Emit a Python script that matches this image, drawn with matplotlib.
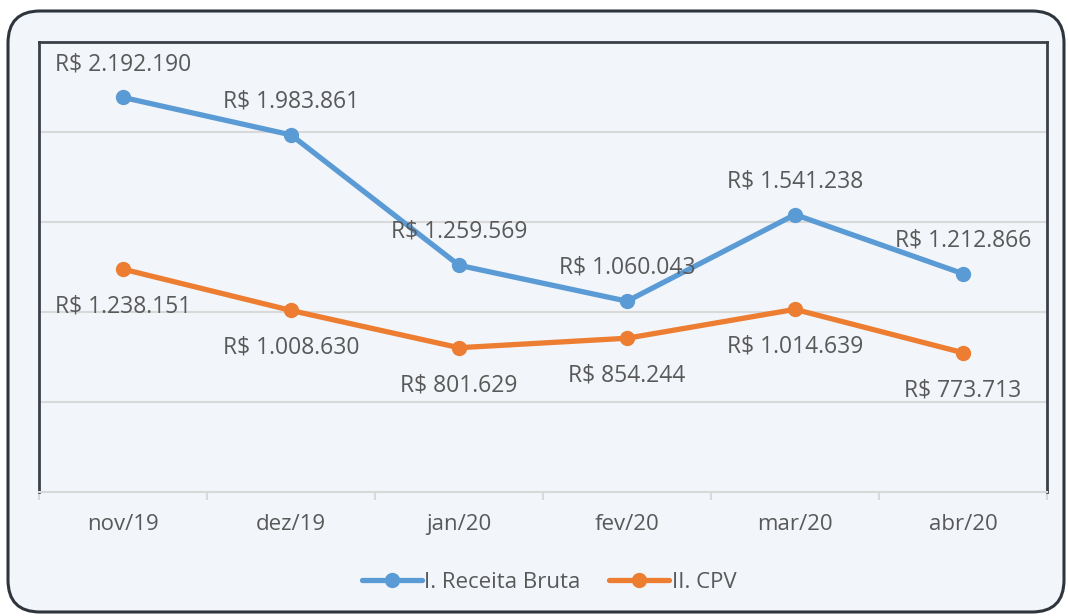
import matplotlib.pyplot as plt
from matplotlib.patches import FancyBboxPatch
from matplotlib.lines import Line2D

# ====== Data ======
meses = ["nov/19", "dez/19", "jan/20", "fev/20", "mar/20", "abr/20"]
receita_bruta = [2192190, 1983861, 1259569, 1060043, 1541238, 1212866]
cpv = [1238151, 1008630, 801629, 854244, 1014639, 773713]
# ==================

AZUL = "#5b9bd5"
LARANJA = "#ed7d31"
CINZA_TXT = "#595959"
FUNDO = "#f2f5fa"

plt.rcParams['font.family'] = ['Open Sans', 'DejaVu Sans']


def fmt_brl(v):
    return "R$ " + f"{v:,}".replace(",", ".")


fig = plt.figure(figsize=(10.68, 6.16), dpi=100)
fig.patch.set_facecolor("white")

# moldura arredondada
caixa = FancyBboxPatch((8 / 1068, 4 / 616), 1056 / 1068, 601 / 616,
                       boxstyle="round,pad=0,rounding_size=0.03",
                       transform=fig.transFigure, facecolor=FUNDO,
                       edgecolor="#2f353d", linewidth=2.2,
                       mutation_aspect=1068 / 616, zorder=-1)
fig.patches.append(caixa)

ax = fig.add_axes([39 / 1068, 124 / 616, 1008 / 1068, 450 / 616])
ax.set_facecolor(FUNDO)

x = list(range(len(meses)))
ax.plot(x, receita_bruta, color=AZUL, lw=3.8, marker="o", ms=10,
        solid_capstyle="round", zorder=3)
ax.plot(x, cpv, color=LARANJA, lw=3.8, marker="o", ms=10,
        solid_capstyle="round", zorder=3)

# rótulos de dados
for i, v in enumerate(receita_bruta):
    ax.annotate(fmt_brl(v), (i, v), xytext=(0, 24), textcoords="offset points",
                ha="center", va="center", fontsize=16.5, color=CINZA_TXT, zorder=4)
for i, v in enumerate(cpv):
    ax.annotate(fmt_brl(v), (i, v), xytext=(0, -27), textcoords="offset points",
                ha="center", va="center", fontsize=16.5, color=CINZA_TXT, zorder=4)

ax.set_xlim(-0.5, len(meses) - 0.5)
ax.set_ylim(0, 2500000)
ax.set_yticks([500000, 1000000, 1500000, 2000000])
ax.yaxis.grid(True, color="#d9d9d9", lw=1.5)
ax.set_axisbelow(True)
ax.tick_params(axis="y", left=False, labelleft=False)

ax.set_xticks(x)
ax.set_xticklabels(meses, fontsize=16, color=CINZA_TXT)
ax.tick_params(axis="x", length=0, pad=16)
ax.set_xticks([i + 0.5 for i in range(-1, len(meses))], minor=True)
ax.tick_params(axis="x", which="minor", length=6, width=1.5, color="#d9d9d9")

for lado in ["left", "top", "right"]:
    ax.spines[lado].set_color("#3a4049")
    ax.spines[lado].set_linewidth(2)
ax.spines["bottom"].set_color("#d9d9d9")
ax.spines["bottom"].set_linewidth(1.5)

handles = [Line2D([], [], color=AZUL, lw=3.8, marker="o", ms=10, solid_capstyle="round"),
           Line2D([], [], color=LARANJA, lw=3.8, marker="o", ms=10, solid_capstyle="round")]
fig.legend(handles, ["I. Receita Bruta", "II. CPV"], loc="center",
           bbox_to_anchor=(549 / 1068, 1 - 582 / 616), ncol=2, frameon=False,
           fontsize=16, labelcolor=CINZA_TXT, handlelength=2.7,
           handletextpad=0.1, columnspacing=1.3)

fig.savefig("out.png", dpi=100, facecolor=fig.get_facecolor())
